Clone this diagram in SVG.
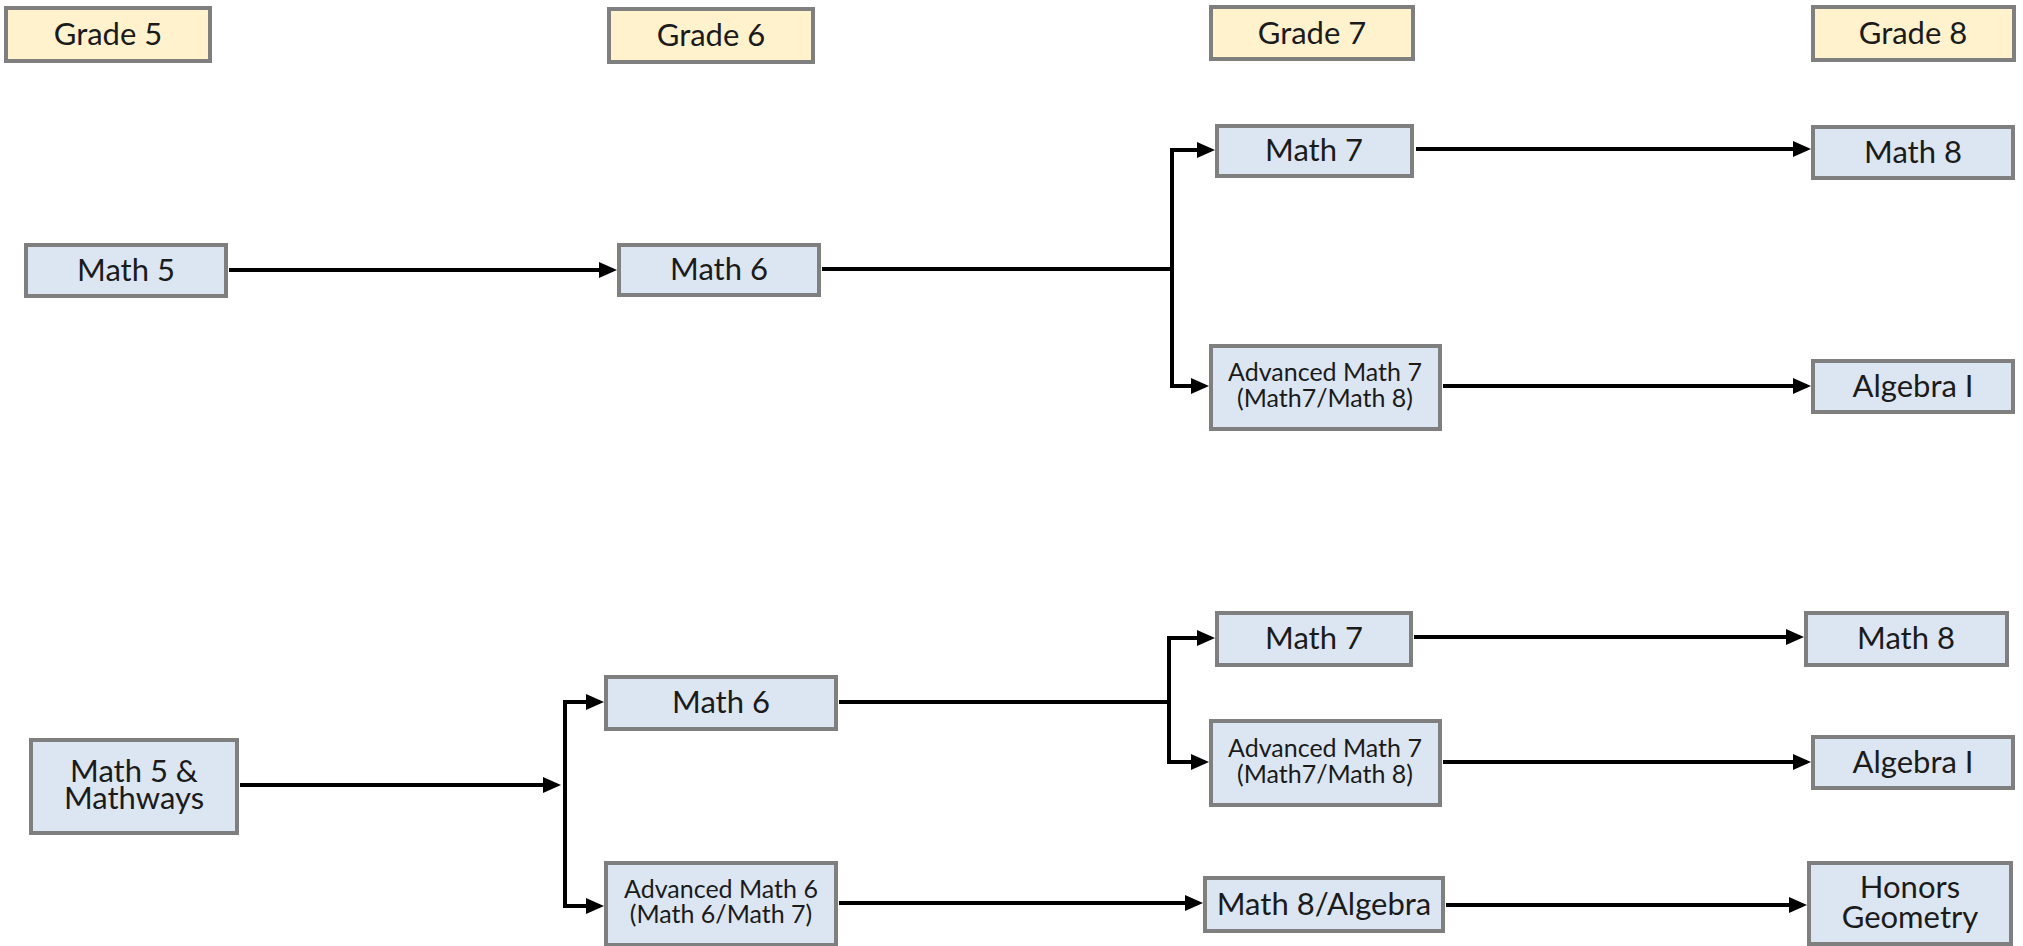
<svg xmlns="http://www.w3.org/2000/svg" width="2023" height="946" viewBox="0 0 2023 946">
<style>
.box{fill:#DCE6F2;stroke:#7F7F7F;stroke-width:4}
.hdr{fill:#FFF2CC;stroke:#7F7F7F;stroke-width:4}
.t{font-family:Lato,"Liberation Sans",sans-serif;font-size:31px;fill:#1b1b1b;text-anchor:middle}
.s{font-size:25px}
.c{fill:none;stroke:#000;stroke-width:4}
</style>
<defs>
<marker id="ah" markerUnits="userSpaceOnUse" markerWidth="18" markerHeight="16" refX="14" refY="8" orient="auto">
<path d="M0,0 L18,8 L0,16 z" fill="#000"/>
</marker>
</defs>
<rect width="2023" height="946" fill="#fff"/>
<g id="connectors">
<path class="c" d="M229,270 H613" marker-end="url(#ah)"/>
<path class="c" d="M822,269 H1172"/>
<path class="c" d="M1172,269 V150 H1211" marker-end="url(#ah)"/>
<path class="c" d="M1172,269 V386 H1205" marker-end="url(#ah)"/>
<path class="c" d="M1416,149 H1807" marker-end="url(#ah)"/>
<path class="c" d="M1443,386 H1807" marker-end="url(#ah)"/>
<path class="c" d="M240,785 H557" marker-end="url(#ah)"/>
<path class="c" d="M565,785 V702 H600" marker-end="url(#ah)"/>
<path class="c" d="M565,785 V906 H600" marker-end="url(#ah)"/>
<path class="c" d="M839,702 H1169"/>
<path class="c" d="M1169,702 V638 H1211" marker-end="url(#ah)"/>
<path class="c" d="M1169,702 V762 H1205" marker-end="url(#ah)"/>
<path class="c" d="M1414,637 H1800" marker-end="url(#ah)"/>
<path class="c" d="M1443,762 H1807" marker-end="url(#ah)"/>
<path class="c" d="M839,903 H1199" marker-end="url(#ah)"/>
<path class="c" d="M1446,905 H1803" marker-end="url(#ah)"/>
</g>
<g id="grade5"><rect class="hdr" x="6" y="8" width="204" height="53"/><text class="t" x="108" y="45">Grade 5</text></g>
<g id="grade6"><rect class="hdr" x="609" y="9" width="204" height="53"/><text class="t" x="711" y="46">Grade 6</text></g>
<g id="grade7"><rect class="hdr" x="1211" y="7" width="202" height="52"/><text class="t" x="1312" y="44">Grade 7</text></g>
<g id="grade8"><rect class="hdr" x="1813" y="7" width="201" height="53"/><text class="t" x="1913" y="44">Grade 8</text></g>
<g id="math5"><rect class="box" x="26" y="245" width="200" height="51"/><text class="t" x="126" y="281">Math 5</text></g>
<g id="math6a"><rect class="box" x="619" y="245" width="200" height="50"/><text class="t" x="719" y="280">Math 6</text></g>
<g id="math7a"><rect class="box" x="1217" y="126" width="195" height="50"/><text class="t" x="1314" y="161">Math 7</text></g>
<g id="adv7a"><rect class="box" x="1211" y="346" width="229" height="83"/><text class="t s" x="1325" y="381">Advanced Math 7</text><text class="t s" x="1325" y="407">(Math7/Math 8)</text></g>
<g id="math8a"><rect class="box" x="1813" y="127" width="200" height="51"/><text class="t" x="1913" y="163">Math 8</text></g>
<g id="alg1a"><rect class="box" x="1813" y="361" width="200" height="51"/><text class="t" x="1913" y="397">Algebra I</text></g>
<g id="mathways"><rect class="box" x="31" y="740" width="206" height="93"/><text class="t" x="134" y="782">Math 5 &amp;</text><text class="t" x="134" y="809">Mathways</text></g>
<g id="math6b"><rect class="box" x="606" y="677" width="230" height="52"/><text class="t" x="721" y="713">Math 6</text></g>
<g id="adv6"><rect class="box" x="606" y="863" width="230" height="82"/><text class="t s" x="721" y="898">Advanced Math 6</text><text class="t s" x="721" y="923">(Math 6/Math 7)</text></g>
<g id="math7b"><rect class="box" x="1217" y="613" width="194" height="52"/><text class="t" x="1314" y="649">Math 7</text></g>
<g id="adv7b"><rect class="box" x="1211" y="721" width="229" height="84"/><text class="t s" x="1325" y="757">Advanced Math 7</text><text class="t s" x="1325" y="783">(Math7/Math 8)</text></g>
<g id="m8alg"><rect class="box" x="1205" y="878" width="238" height="53"/><text class="t" x="1324" y="915">Math 8/Algebra</text></g>
<g id="math8b"><rect class="box" x="1806" y="613" width="201" height="52"/><text class="t" x="1906" y="649">Math 8</text></g>
<g id="alg1b"><rect class="box" x="1813" y="737" width="200" height="51"/><text class="t" x="1913" y="773">Algebra I</text></g>
<g id="honors"><rect class="box" x="1809" y="863" width="202" height="81"/><text class="t" x="1910" y="898">Honors</text><text class="t" x="1910" y="928">Geometry</text></g>
</svg>
